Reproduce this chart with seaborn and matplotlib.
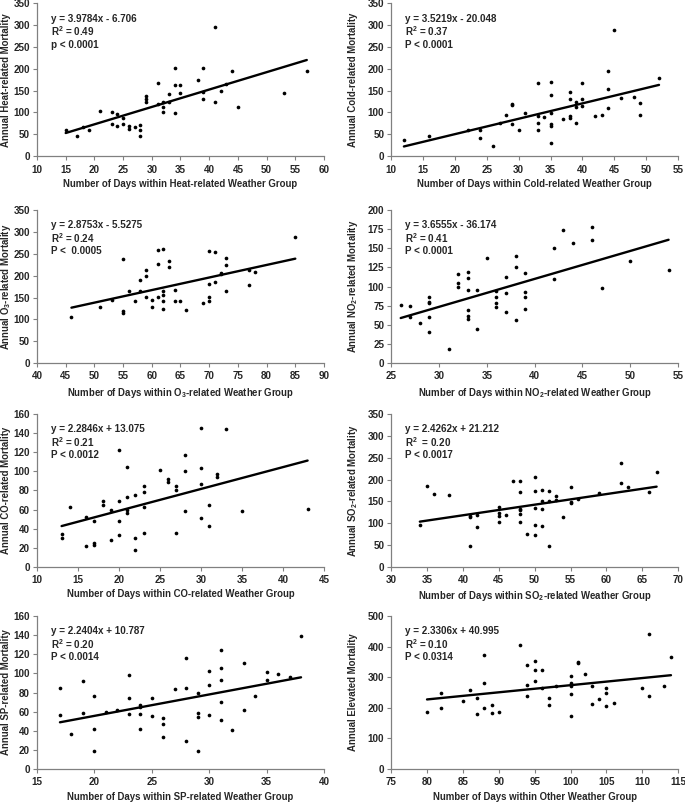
import numpy as np
import pandas as pd
import seaborn as sns
import matplotlib.pyplot as plt

# Heat
heat_x = [15, 17, 18, 19, 21, 23, 23, 24, 24, 25, 25, 26, 26, 27, 28, 28, 28, 29, 29, 29, 31, 31,
          32, 32, 32, 33, 33, 34, 34, 34, 35, 35, 38, 39, 39, 39, 41, 41, 42, 43, 44, 45, 53, 57]
heat_y = [61, 47, 67, 59, 103, 101, 73, 96, 69, 88, 73, 70, 62, 67, 72, 60, 47, 137, 131, 125, 167, 119,
          123, 113, 101, 142, 125, 201, 162, 98, 162, 145, 175, 202, 146, 131, 296, 123, 148, 165, 195, 112, 144, 194]

# Cold
cold_x = [12, 16, 22, 24, 24, 26, 27, 28, 29, 29, 29, 30, 31, 33, 33, 33, 33, 34, 35, 35, 35, 35, 35,
          35, 37, 38, 38, 38, 38, 39, 39, 39, 40, 40, 40, 42, 43, 44, 44, 44, 45, 46, 48, 49, 49, 52]
cold_y = [37, 46, 61, 60, 41, 24, 77, 95, 120, 117, 74, 61, 98, 167, 91, 75, 61, 89, 170, 141, 98, 74, 69,
          29, 84, 146, 131, 92, 87, 124, 112, 77, 167, 131, 114, 92, 94, 195, 153, 110, 289, 132, 135, 121, 95, 180]

# O3
o3_x = [46, 51, 53, 55, 55, 55, 56, 57, 58, 58, 59, 59, 59, 60, 60, 61, 61, 61, 62, 62, 62, 62, 62,
        63, 63, 64, 64, 65, 66, 69, 70, 70, 70, 70, 71, 71, 72, 72, 73, 73, 73, 77, 77, 78, 85]
o3_y = [105, 129, 145, 237, 119, 114, 165, 142, 189, 165, 213, 200, 152, 145, 129, 227, 259, 152, 260, 164, 155, 142, 124,
        234, 219, 168, 141, 141, 122, 137, 257, 181, 152, 142, 253, 186, 207, 204, 240, 224, 166, 213, 178, 209, 289]

# NO2
no2_x = [26, 27, 27, 28, 29, 29, 29, 29, 29, 31, 32, 32, 32, 33, 33, 33, 33, 33, 33, 34, 34, 35, 36,
         36, 36, 36, 37, 37, 37, 38, 38, 38, 39, 39, 39, 39, 42, 42, 43, 44, 46, 46, 47, 50, 54]
no2_y = [76, 75, 60, 52, 86, 80, 78, 60, 41, 19, 116, 105, 99, 119, 111, 96, 70, 61, 58, 96, 45, 137, 94,
         87, 79, 73, 112, 91, 67, 140, 126, 56, 118, 93, 86, 71, 151, 110, 174, 157, 178, 161, 98, 133, 122]

# CO
co_x = [13, 13, 14, 16, 16, 17, 17, 17, 18, 18, 19, 19, 20, 20, 20, 20, 21, 21, 21, 21, 22, 22, 22, 23,
        23, 23, 23, 25, 26, 26, 27, 27, 27, 28, 28, 28, 30, 30, 30, 30, 31, 31, 32, 32, 33, 35, 43]
co_y = [34, 30, 63, 52, 22, 48, 25, 23, 69, 65, 60, 28, 122, 69, 48, 33, 105, 73, 60, 56, 75, 30, 18, 85,
        78, 63, 36, 101, 92, 89, 85, 80, 36, 117, 100, 59, 145, 104, 87, 51, 65, 43, 97, 94, 144, 59, 61]

# SO2
so2_x = [34, 35, 36, 38, 41, 41, 41, 42, 42, 45, 45, 45, 45, 46, 47, 48, 48, 48, 48, 48, 48, 49, 50, 50,
         50, 50, 50, 51, 51, 51, 51, 52, 52, 52, 53, 53, 54, 55, 55, 55, 56, 59, 62, 62, 63, 66, 67]
so2_y = [95, 185, 167, 165, 117, 114, 49, 120, 91, 138, 123, 117, 104, 120, 196, 197, 171, 133, 131, 121, 104, 75, 205, 174,
         135, 96, 72, 176, 152, 132, 93, 173, 150, 49, 162, 153, 114, 182, 149, 146, 156, 169, 237, 192, 184, 171, 218]

# SP
sp_x = [17, 17, 18, 19, 19, 20, 20, 20, 21, 22, 23, 23, 23, 24, 24, 24, 24, 25, 25, 26, 26, 26, 27, 28,
        28, 28, 29, 29, 29, 29, 30, 30, 30, 31, 31, 31, 31, 31, 32, 33, 33, 34, 35, 35, 36, 37, 38]
sp_y = [85, 57, 37, 92, 59, 76, 42, 19, 60, 62, 98, 74, 58, 67, 65, 58, 42, 74, 55, 53, 47, 34, 84, 116,
        85, 29, 79, 59, 54, 19, 103, 88, 57, 125, 106, 93, 70, 51, 41, 111, 62, 76, 102, 93, 99, 96, 139]

# Other
other_x = [80, 82, 82, 85, 86, 87, 87, 88, 88, 88, 89, 89, 90, 93, 94, 94, 94, 95, 95, 95, 96, 96, 97,
           97, 98, 100, 100, 100, 100, 100, 101, 101, 102, 103, 103, 104, 105, 105, 105, 106, 110, 111, 111, 113, 114]
other_y = [188, 247, 199, 223, 259, 231, 180, 282, 374, 199, 210, 183, 188, 407, 341, 275, 240, 352, 324, 289, 325, 266, 231,
           210, 273, 303, 282, 273, 245, 172, 349, 345, 309, 273, 212, 229, 264, 247, 207, 217, 266, 442, 240, 270, 365]

slopes = [3.9784, 3.5219, 2.8753, 3.6555, 2.2846, 2.4262, 2.2404, 2.3306]
intercepts = [-6.706, -20.048, -5.5275, -36.174, 13.075, 21.212, 10.787, 40.995]
equations = ["y = 3.9784x - 6.706", "y = 3.5219x - 20.048", "y = 2.8753x - 5.5275", "y = 3.6555x - 36.174",
             "y = 2.2846x + 13.075", "y = 2.4262x + 21.212", "y = 2.2404x + 10.787", "y = 2.3306x + 40.995"]
r2_labels = ["R$^2$ = 0.49", "R$^2$ = 0.37", "R$^2$ = 0.24", "R$^2$ = 0.41",
             "R$^2$ = 0.21", "R$^2$  = 0.20", "R$^2$ = 0.20", "R$^2$ = 0.10"]
p_labels = ["p < 0.0001", "P < 0.0001", "P <  0.0005", "P < 0.0001",
            "P < 0.0012", "P < 0.0017", "P < 0.0014", "P < 0.0314"]
y_labels = ["Annual Heat-related Mortality", "Annual Cold-related Mortality",
            "Annual O$_3$-related Mortality", "Annual NO$_2$-related Mortality",
            "Annual CO-related Mortality", "Annual SO$_2$-related Mortality",
            "Annual SP-related Mortality", "Annual Elevated Mortality"]
x_labels = ["Number of Days within Heat-related Weather Group", "Number of Days within Cold-related Weather Group",
            "Number of Days within O$_3$-related Weather Group", "Number of Days within NO$_2$-related Weather Group",
            "Number of Days within CO-related Weather Group", "Number of Days within SO$_2$-related Weather Group",
            "Number of Days within SP-related Weather Group", "Number of Days within Other Weather Group"]
x_limits = [(10, 60), (10, 55), (40, 90), (25, 55), (10, 45), (30, 70), (15, 40), (75, 115)]
y_limits = [(0, 350), (0, 350), (0, 350), (0, 200), (0, 160), (0, 350), (0, 160), (0, 500)]
y_steps = [50, 50, 50, 25, 20, 50, 20, 100]

xs = [heat_x, cold_x, o3_x, no2_x, co_x, so2_x, sp_x, other_x]
ys = [heat_y, cold_y, o3_y, no2_y, co_y, so2_y, sp_y, other_y]

sns.set_style("ticks")
plt.rcParams['font.family'] = ['Liberation Sans', 'DejaVu Sans']
plt.rcParams['font.weight'] = 'bold'
plt.rcParams['mathtext.fontset'] = 'custom'
plt.rcParams['mathtext.rm'] = 'Liberation Sans:bold'
plt.rcParams['mathtext.it'] = 'Liberation Sans:bold'
plt.rcParams['mathtext.bf'] = 'Liberation Sans:bold'
plt.rcParams['mathtext.default'] = 'rm'

fig = plt.figure(figsize=(6.85, 8.05), dpi=100)

lefts = [0.054, 0.571]
bottoms = [0.806, 0.549, 0.2957, 0.0447]
w, h = 0.419, 0.19
ylabel_x = [-0.108, -0.132]

for i in range(8):
    ax = fig.add_axes([lefts[i % 2], bottoms[i // 2], w, h])
    df = pd.DataFrame({'x': xs[i], 'y': ys[i]})
    sns.scatterplot(data=df, x='x', y='y', ax=ax, color='black', s=7, linewidth=0, legend=False)

    # Regressionsgerade aus der angegebenen Gleichung
    lx = np.array([min(xs[i]), max(xs[i])])
    line = pd.DataFrame({'x': lx, 'y': slopes[i] * lx + intercepts[i]})
    sns.lineplot(data=line, x='x', y='y', ax=ax, color='black', linewidth=1.7)

    ax.set_xlim(*x_limits[i])
    ax.set_ylim(*y_limits[i])
    ax.set_xticks(np.arange(x_limits[i][0], x_limits[i][1] + 1, 5))
    ax.set_yticks(np.arange(0, y_limits[i][1] + 1, y_steps[i]))
    sns.despine(ax=ax)
    for s in ['left', 'bottom']:
        ax.spines[s].set_color('#808080')
        ax.spines[s].set_linewidth(0.9)
    ax.tick_params(axis='both', length=3, width=0.8, color='#808080', labelsize=7.1, pad=2)
    ax.tick_params(axis='x', pad=3)
    for lab in ax.get_xticklabels() + ax.get_yticklabels():
        lab.set_fontweight('bold')
    ax.set_xlabel(x_labels[i], fontsize=6.9, fontweight='bold', labelpad=3)
    ax.set_ylabel(y_labels[i], fontsize=6.9, fontweight='bold')
    ax.yaxis.label.set_verticalalignment('center')
    ax.yaxis.set_label_coords(ylabel_x[i % 2], 0.5)

    ax.text(0.05, 0.9, equations[i], transform=ax.transAxes, fontsize=7.1, fontweight='bold', va='center')
    ax.text(0.05, 0.815, r2_labels[i], transform=ax.transAxes, fontsize=7.1, fontweight='bold', va='center')
    ax.text(0.05, 0.73, p_labels[i], transform=ax.transAxes, fontsize=7.1, fontweight='bold', va='center')

plt.savefig("out.png", dpi=100)
plt.close()
